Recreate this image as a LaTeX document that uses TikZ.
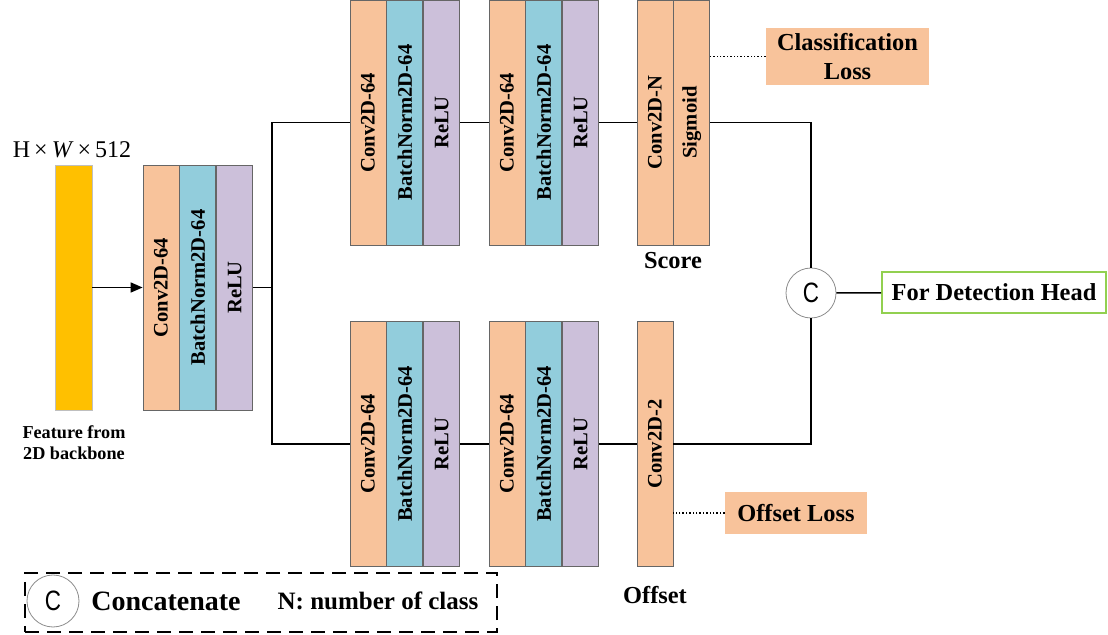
\documentclass[tikz,border=0pt]{standalone}
\usepackage{fontspec}
\setmainfont{Liberation Serif}
\newfontfamily\circfont[FakeStretch=0.8]{Liberation Sans}
\usetikzlibrary{positioning,arrows.meta}
\definecolor{convcol}{RGB}{248,195,155}
\definecolor{bncol}{RGB}{146,205,220}
\definecolor{relucol}{RGB}{204,192,218}
\definecolor{featcol}{RGB}{255,192,0}
\definecolor{headcol}{RGB}{146,208,80}
\tikzset{
        layer/.style={draw=black!60, line width=0.4pt, minimum width=18pt, minimum height=122.5pt, inner sep=0pt, font=\fontsize{10.3}{12}\selectfont\bfseries},
        conv/.style={layer, fill=convcol},
        bnorm/.style={layer, fill=bncol},
        relu/.style={layer, fill=relucol},
        feat/.style={fill=featcol, draw=black!25, minimum width=18.5pt, minimum height=122.5pt, inner sep=0pt},
        loss/.style={fill=convcol, inner sep=0pt, font=\fontsize{12.2}{14.5}\selectfont\bfseries, align=center},
        cat/.style={circle, draw=black!45, line width=0.4pt, minimum size=25pt, inner sep=0pt, font=\circfont\fontsize{14}{14}\selectfont},
        caption/.style={font=\fontsize{12.2}{14.5}\selectfont\bfseries},
        link/.style={line width=0.8pt},
        lossline/.style={densely dotted, line width=0.7pt}
          }
\newcommand{\vlab}[1]{\rotatebox{90}{#1}}

\begin{document}
\begin{tikzpicture}[x=0.5pt, y=-0.5pt]
        \useasboundingbox (0,0) rectangle (1108,635);
        % input feature
        \node[feat] (feat) at (73.5,287.5) {};
        \node[font=\fontsize{12}{14}\selectfont] (dim) at (72,150) {H\,×\,\textit{W}\,×\,512};
        \node[font=\fontsize{9.1}{10.5}\selectfont\bfseries, align=center] (featlab) at (74,443) {Feature from\\2D backbone};
        % shared block
        \node[conv] (a1) at (161,287.5) {\vlab{Conv2D-64}};
        \node[bnorm, right=0pt of a1] (a2) {\vlab{BatchNorm2D-64}};
        \node[relu, right=0pt of a2] (a3) {\vlab{ReLU}};
        % score and offset branches
        \foreach \r/\yc in {t/122.5, b/444}{
          \node[conv] (\r1) at (368,\yc) {\vlab{Conv2D-64}};
          \node[bnorm, right=0pt of \r1] (\r2) {\vlab{BatchNorm2D-64}};
          \node[relu, right=0pt of \r2] (\r3) {\vlab{ReLU}};
          \node[conv] (\r4) at (507,\yc) {\vlab{Conv2D-64}};
          \node[bnorm, right=0pt of \r4] (\r5) {\vlab{BatchNorm2D-64}};
          \node[relu, right=0pt of \r5] (\r6) {\vlab{ReLU}};
        }
        \node[conv] (score) at (655,122.5) {\vlab{Conv2D-N}};
        \node[conv, right=0pt of score] (sig) {\vlab{Sigmoid}};
        \node[conv] (off) at (655,444) {\vlab{Conv2D-2}};
        \node[caption] (scorelab) at (673,261) {Score};
        \node[caption] (offlab) at (655,595) {Offset};
        \node[loss, minimum width=81.5pt, minimum height=28.5pt] (clsloss) at (847.5,56.5) {Classification\\Loss};
        \node[loss, minimum width=71pt, minimum height=21pt] (offloss) at (796,513) {Offset Loss};
        \node[cat] (cat) at (811,293) {C};
        \node[caption, draw=headcol, line width=0.8pt, minimum width=112pt, minimum height=20.5pt, inner sep=0pt] (head) at (994,292.5) {For Detection Head};
        % connectors
        \coordinate (split) at (272,287.5);
        \draw[link, -{Triangle[length=6pt,width=5pt]}] (feat) -- (a1);
        \draw[link] (a3) -- (split);
        \draw[link] (t1) -| (split) |- (b1);
        \draw[link] (t3) -- (t4);
        \draw[link] (b3) -- (b4);
        \draw[link] (t6) -- (score);
        \draw[link] (b6) -- (off);
        \draw[link] (sig) -| (cat);
        \draw[link] (off) -| (cat);
        \draw[link] (cat) -- (head);
        \draw[lossline] (clsloss.west) -- (clsloss.west -| sig.east);
        \draw[lossline] (offloss.west) -- (offloss.west -| off.east);
        % legend
        \node[draw, dash pattern=on 7pt off 4pt, line width=1pt, minimum width=236pt, minimum height=29.5pt, inner sep=0pt] (legend) at (261,602.5) {};
        \node[cat, minimum size=26pt] (legc) at (53,601) {C};
        \node[font=\fontsize{14}{16}\selectfont\bfseries] (legcat) at (166,601) {Concatenate};
        \node[font=\fontsize{12.5}{14}\selectfont\bfseries] (legn) at (378,601) {N: number of class};
      \end{tikzpicture}
\end{document}
